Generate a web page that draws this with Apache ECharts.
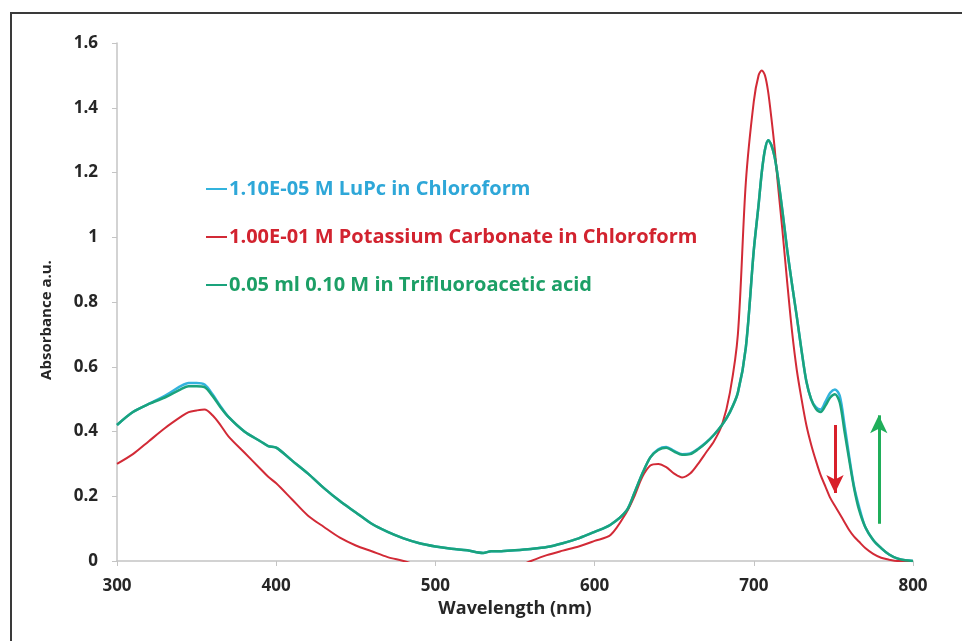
<!DOCTYPE html>
<html>
<head>
<meta charset="utf-8">
<script src="https://cdn.jsdelivr.net/npm/echarts@6/dist/echarts.min.js"></script>
<style>
  html, body { margin: 0; padding: 0; background: #ffffff; }
  #chart { width: 962px; height: 641px; }
</style>
</head>
<body>
<div id="chart"></div>
<script>
// Wavelength sampling points (nm)
const wavelengths = [300,310,320,330,340,345,350,355,360,365,370,380,390,395,400,410,420,430,440,450,460,470,480,490,500,510,520,530,535,540,550,560,570,580,590,600,610,620,625,630,635,640,645,650,655,660,665,670,675,680,685,690,695,700,703,705,707,709,711,713,715,718,721,724,727,730,733,736,739,742,745,748,751,754,757,760,763,766,770,775,780,785,790,795,800];

// Absorbance, LuPc in chloroform
const luPc = [0.42,0.46,0.485,0.51,0.54,0.55,0.55,0.545,0.515,0.478,0.445,0.40,0.37,0.355,0.35,0.31,0.27,0.225,0.185,0.15,0.115,0.09,0.07,0.055,0.045,0.038,0.033,0.025,0.03,0.03,0.033,0.037,0.043,0.055,0.07,0.09,0.112,0.155,0.21,0.27,0.32,0.345,0.352,0.34,0.33,0.332,0.347,0.366,0.39,0.42,0.46,0.52,0.66,0.96,1.10,1.20,1.27,1.30,1.285,1.25,1.19,1.08,0.96,0.855,0.755,0.65,0.555,0.50,0.475,0.468,0.492,0.52,0.53,0.51,0.42,0.32,0.23,0.17,0.105,0.065,0.04,0.02,0.008,0.002,0.0];

// Absorbance, after potassium carbonate
const k2co3 = [0.30,0.33,0.37,0.41,0.445,0.46,0.465,0.468,0.45,0.42,0.385,0.335,0.285,0.26,0.24,0.19,0.14,0.105,0.072,0.048,0.03,0.012,0.0,-0.015,-0.025,-0.03,-0.035,-0.035,-0.035,-0.03,-0.02,0.0,0.018,0.032,0.045,0.062,0.08,0.15,0.20,0.26,0.295,0.30,0.29,0.27,0.258,0.27,0.30,0.335,0.37,0.42,0.52,0.70,1.17,1.42,1.50,1.515,1.50,1.45,1.37,1.28,1.17,1.02,0.86,0.71,0.59,0.50,0.42,0.36,0.31,0.265,0.23,0.195,0.17,0.145,0.12,0.095,0.075,0.06,0.04,0.022,0.01,0.004,0.0,0.0,0.0];

// Absorbance, after trifluoroacetic acid
const tfa = [0.42,0.46,0.485,0.505,0.53,0.54,0.54,0.537,0.51,0.475,0.445,0.40,0.37,0.355,0.35,0.31,0.27,0.225,0.185,0.15,0.115,0.09,0.07,0.055,0.045,0.038,0.033,0.025,0.03,0.03,0.033,0.037,0.043,0.055,0.07,0.09,0.112,0.155,0.21,0.27,0.32,0.343,0.35,0.338,0.328,0.33,0.345,0.365,0.39,0.42,0.46,0.52,0.66,0.96,1.10,1.20,1.27,1.30,1.285,1.25,1.19,1.08,0.96,0.855,0.755,0.65,0.555,0.50,0.47,0.46,0.48,0.505,0.515,0.49,0.40,0.31,0.225,0.16,0.105,0.065,0.04,0.02,0.008,0.002,0.0];

const seriesNames = [
  '1.10E-05 M LuPc in Chloroform',
  '1.00E-01 M Potassium Carbonate in Chloroform',
  '0.05 ml 0.10 M in Trifluoroacetic acid'
];

// Trend arrows: [wavelength, absorbance] start and end
const redArrow = [[751, 0.42], [751, 0.21]];
const greenArrow = [[778.5, 0.115], [778.5, 0.45]];

const yTicks = { min: 0, max: 1.6, interval: 0.2 };
const xTicks = { min: 300, max: 800, interval: 100 };

const colors = { cyan: '#33b3dd', red: '#d22a36', green: '#1aa37c' };
const textColors = { cyan: '#2ea7d8', red: '#d2232f', green: '#1c9f66' };

const FONT = 'Open Sans';

function pairs(ys) { return wavelengths.map((w, i) => [w, ys[i]]); }

const chart = echarts.init(document.getElementById('chart'), null, { renderer: 'canvas' });

chart.setOption({
  animation: false,
  backgroundColor: '#ffffff',
  graphic: [
    { type: 'line', shape: { x1: 11, y1: 13, x2: 962, y2: 13 }, style: { stroke: '#3a3a3a', lineWidth: 2 } },
    { type: 'line', shape: { x1: 11, y1: 12, x2: 11, y2: 641 }, style: { stroke: '#3a3a3a', lineWidth: 2 } }
  ],
  grid: { left: 117, right: 49, top: 43, bottom: 80 },
  legend: {
    orient: 'vertical',
    left: 201,
    top: 174,
    itemGap: 28,
    itemWidth: 21,
    itemHeight: 2,
    icon: 'rect',
    selectedMode: false,
    textStyle: { fontFamily: FONT, fontWeight: 'bold', fontSize: 20, padding: [0, 0, 0, -3], letterSpacing: -0.35 },
    data: [
      { name: seriesNames[0], textStyle: { color: textColors.cyan } },
      { name: seriesNames[1], textStyle: { color: textColors.red } },
      { name: seriesNames[2], textStyle: { color: textColors.green } }
    ]
  },
  xAxis: {
    type: 'value',
    min: xTicks.min, max: xTicks.max, interval: xTicks.interval,
    name: 'Wavelength (nm)',
    nameLocation: 'middle',
    nameGap: 36,
    nameTextStyle: { fontFamily: FONT, fontWeight: 'bold', fontSize: 18, color: '#262626' },
    axisLine: { lineStyle: { color: '#c4c4c4', width: 1.5 } },
    axisTick: { show: true, length: 5, lineStyle: { color: '#c4c4c4' } },
    axisLabel: { fontFamily: FONT, fontWeight: 'bold', fontSize: 17, color: '#262626', margin: 17 },
    splitLine: { show: false }
  },
  yAxis: {
    type: 'value',
    min: yTicks.min, max: yTicks.max, interval: yTicks.interval,
    name: 'Absorbance a.u.',
    nameLocation: 'middle',
    nameRotate: 90,
    nameGap: 63,
    nameTextStyle: { fontFamily: FONT, fontWeight: 'bold', fontSize: 15, color: '#262626', padding: [0, 36, 0, 0] },
    axisLine: { show: true, lineStyle: { color: '#c4c4c4', width: 1.5 } },
    axisTick: { show: true, length: 5, lineStyle: { color: '#c4c4c4' } },
    axisLabel: { fontFamily: FONT, fontWeight: 'bold', fontSize: 17, color: '#262626', margin: 19 },
    splitLine: { show: false }
  },
  series: [
    {
      name: seriesNames[0], type: 'line', data: pairs(luPc),
      showSymbol: false, smooth: 0.3, clip: true,
      lineStyle: { color: colors.cyan, width: 2.5 }, itemStyle: { color: colors.cyan },
      z: 2
    },
    {
      name: seriesNames[1], type: 'line', data: pairs(k2co3),
      showSymbol: false, smooth: 0.3, clip: true,
      lineStyle: { color: colors.red, width: 2 }, itemStyle: { color: colors.red },
      z: 3,
      markLine: {
        silent: true, symbol: ['none', 'arrow'], symbolSize: [13, 18],
        label: { show: false },
        lineStyle: { color: '#d8202a', width: 3, type: 'solid' },
        data: [[{ coord: redArrow[0] }, { coord: redArrow[1] }]]
      }
    },
    {
      name: seriesNames[2], type: 'line', data: pairs(tfa),
      showSymbol: false, smooth: 0.3, clip: true,
      lineStyle: { color: colors.green, width: 2.5 }, itemStyle: { color: colors.green },
      z: 4,
      markLine: {
        silent: true, symbol: ['none', 'arrow'], symbolSize: [13, 18],
        label: { show: false },
        lineStyle: { color: '#1fae5a', width: 3, type: 'solid' },
        data: [[{ coord: greenArrow[0] }, { coord: greenArrow[1] }]]
      }
    }
  ]
});
</script>
</body>
</html>
